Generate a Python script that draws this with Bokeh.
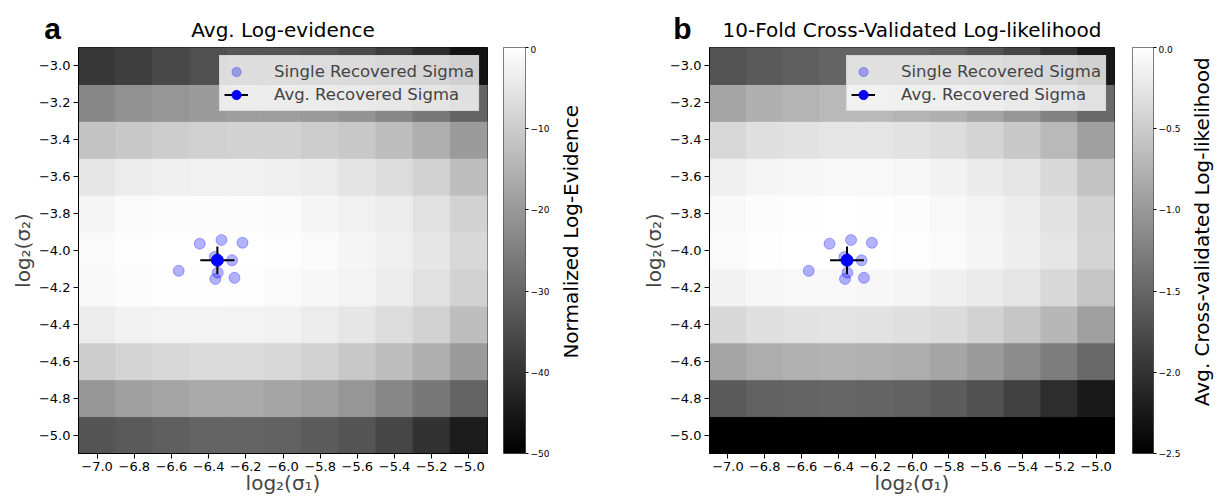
import numpy as np
from bokeh.plotting import figure
from bokeh.models import (ColumnDataSource, LinearColorMapper, FixedTicker, CustomJSTickFormatter,
                          Legend, LegendItem, Range1d)
from bokeh.layouts import row, column
from bokeh.palettes import gray
from bokeh.transform import linear_cmap
from bokeh.core.properties import value
from bokeh.embed import file_html
from bokeh.resources import INLINE

# ---------------- data ----------------
sigma1_centers = [-7.0, -6.8, -6.6, -6.4, -6.2, -6.0, -5.8, -5.6, -5.4, -5.2, -5.0]
sigma2_centers = [-5.0, -4.8, -4.6, -4.4, -4.2, -4.0, -3.8, -3.6, -3.4, -3.2, -3.0]

# rows ordered bottom (log2 sigma2 = -5.0) to top (-3.0)
log_evidence = [
    [-33.3, -32.4, -31.4, -30.4, -30.4, -30.8, -32.0, -33.3, -36.3, -40.2, -44.5],
    [-20.6, -18.6, -17.6, -16.7, -16.7, -17.6, -18.6, -20.6, -23.5, -26.5, -30.4],
    [-9.8, -8.4, -7.8, -7.3, -7.3, -7.8, -8.8, -10.8, -12.7, -15.7, -19.6],
    [-3.9, -2.9, -2.5, -2.4, -2.5, -2.9, -3.9, -4.9, -6.9, -8.8, -12.7],
    [-1.4, -0.6, -0.2, -0.2, -0.4, -1.0, -1.6, -2.5, -3.9, -5.9, -8.8],
    [-1.0, -0.4, 0.0, 0.0, 0.0, -0.4, -1.0, -2.0, -3.3, -4.9, -7.8],
    [-2.0, -1.0, -0.6, -0.6, -0.6, -1.0, -2.0, -2.9, -3.9, -5.9, -8.8],
    [-4.9, -3.9, -3.3, -2.9, -2.9, -3.3, -3.9, -5.3, -6.9, -8.8, -12.7],
    [-11.8, -10.8, -9.8, -9.2, -8.8, -8.8, -9.8, -10.8, -12.7, -15.7, -19.6],
    [-23.5, -21.6, -20.6, -19.6, -19.0, -19.0, -19.6, -21.0, -23.5, -26.5, -30.4],
    [-39.2, -37.8, -35.9, -34.3, -33.3, -33.3, -33.9, -35.3, -37.8, -41.2, -46.1],
]

cv_loglik = [
    [-3.4, -3.3, -3.2, -3.2, -3.2, -3.2, -3.3, -3.4, -3.6, -3.9, -4.2],
    [-1.62, -1.54, -1.52, -1.50, -1.52, -1.54, -1.60, -1.70, -1.86, -2.06, -2.25],
    [-0.88, -0.81, -0.77, -0.75, -0.77, -0.81, -0.88, -0.98, -1.13, -1.27, -1.47],
    [-0.39, -0.32, -0.29, -0.28, -0.29, -0.32, -0.36, -0.44, -0.56, -0.71, -0.93],
    [-0.13, -0.09, -0.07, -0.07, -0.08, -0.10, -0.15, -0.20, -0.26, -0.39, -0.56],
    [-0.05, -0.02, 0.0, 0.0, 0.0, -0.02, -0.05, -0.10, -0.17, -0.26, -0.42],
    [-0.07, -0.03, -0.01, 0.0, -0.01, -0.03, -0.07, -0.12, -0.19, -0.29, -0.44],
    [-0.15, -0.10, -0.08, -0.07, -0.07, -0.09, -0.13, -0.20, -0.26, -0.39, -0.59],
    [-0.39, -0.32, -0.29, -0.26, -0.26, -0.29, -0.34, -0.42, -0.54, -0.69, -0.93],
    [-0.88, -0.78, -0.74, -0.69, -0.69, -0.74, -0.78, -0.88, -1.03, -1.23, -1.47],
    [-1.67, -1.62, -1.57, -1.52, -1.52, -1.52, -1.57, -1.67, -1.81, -2.01, -2.25],
]

single_sigma1 = [-6.448, -6.331, -6.218, -6.367, -6.274, -6.561, -6.351, -6.364, -6.261]
single_sigma2 = [-3.963, -3.943, -3.958, -4.035, -4.053, -4.110, -4.120, -4.154, -4.148]
avg_sigma1 = -6.353
avg_sigma2 = -4.053
err_sigma1 = 0.092
err_sigma2 = 0.075

x_ticks = [-7.0, -6.8, -6.6, -6.4, -6.2, -6.0, -5.8, -5.6, -5.4, -5.2, -5.0]
y_ticks = [-5.0, -4.8, -4.6, -4.4, -4.2, -4.0, -3.8, -3.6, -3.4, -3.2, -3.0]
cb_ticks_a = [-50, -40, -30, -20, -10, 0]
cb_ticks_b = [-2.5, -2.0, -1.5, -1.0, -0.5, 0.0]

panel_letters = ["a", "b"]
panel_titles = ["Avg. Log-evidence", "10-Fold Cross-Validated Log-likelihood"]
colorbar_labels = ["Normalized Log-Evidence", "Avg. Cross-validated Log-likelihood"]
legend_labels = ["Single Recovered Sigma", "Avg. Recovered Sigma"]

FONT = "DejaVu Sans"
PALETTE = gray(256)

# ---------------- layout constants (pixels) ----------------
HEADER_H = 45
ROW_H = 455


def fmt(decimals):
    return CustomJSTickFormatter(code="return tick.toFixed(%d).replace('-', '\\u2212');" % decimals)


def base_fig(**kw):
    return figure(output_backend="svg", toolbar_location=None, title_location=None, **kw)


def heat_panel(values, low, high, width, mbl, mbr, mbt, mbb):
    p = base_fig(width=width, height=ROW_H, x_range=Range1d(-7.1, -4.9), y_range=Range1d(-5.1, -2.9),
                 min_border_left=mbl, min_border_right=mbr, min_border_top=mbt, min_border_bottom=mbb)
    xs, ys, vs = [], [], []
    for j, yc in enumerate(sigma2_centers):
        for i, xc in enumerate(sigma1_centers):
            xs.append(xc)
            ys.append(yc)
            vs.append(values[j][i])
    src = ColumnDataSource(dict(x=xs, y=ys, v=vs))
    cmap = linear_cmap("v", PALETTE, low, high, low_color="#000000", high_color="#ffffff")
    p.rect(x="x", y="y", width=0.2, height=0.2, source=src, fill_color=cmap, line_color=cmap, line_width=1)

    r_single = p.scatter(single_sigma1, single_sigma2, size=11, color="blue", alpha=0.3)
    seg = ColumnDataSource(dict(
        x0=[avg_sigma1 - err_sigma1, avg_sigma1],
        y0=[avg_sigma2, avg_sigma2 - err_sigma2],
        x1=[avg_sigma1 + err_sigma1, avg_sigma1],
        y1=[avg_sigma2, avg_sigma2 + err_sigma2]))
    r_err = p.segment(x0="x0", y0="y0", x1="x1", y1="y1", source=seg, line_color="black", line_width=2)
    r_avg = p.scatter([avg_sigma1], [avg_sigma2], size=12, color="blue")

    legend = Legend(items=[LegendItem(label=legend_labels[0], renderers=[r_single]),
                           LegendItem(label=legend_labels[1], renderers=[r_err, r_avg])],
                    location="top_right", label_text_font=FONT, label_text_font_size="16.5px",
                    glyph_width=24, glyph_height=23, padding=4, spacing=0, label_standoff=26,
                    margin=8, background_fill_color="white", background_fill_alpha=0.8,
                    border_line_color="#cccccc", label_height=23)
    p.add_layout(legend)

    p.grid.visible = False
    p.outline_line_color = "black"
    p.outline_line_width = 1
    for ax in (p.xaxis[0], p.yaxis[0]):
        ax.major_label_text_font = FONT
        ax.major_label_text_font_size = "13px"
        ax.major_label_text_color = "black"
        ax.major_tick_out = 5
        ax.major_tick_in = 0
        ax.minor_tick_line_color = None
        ax.major_label_standoff = 3
        ax.axis_label_text_font = FONT
        ax.axis_label_text_font_size = "20px"
        ax.axis_label_text_font_style = "normal"
        ax.axis_line_color = "black"
        ax.formatter = fmt(1)
    p.xaxis.ticker = FixedTicker(ticks=x_ticks)
    p.yaxis.ticker = FixedTicker(ticks=y_ticks)
    p.xaxis.axis_label = "log\u2082(\u03c3\u2081)"
    p.yaxis.axis_label = "log\u2082(\u03c3\u2082)"
    p.xaxis.axis_label_standoff = -3
    p.yaxis.axis_label_standoff = 1
    return p


def colorbar_panel(low, high, ticks, decimals, width, mbl, mbr, mbt, mbb):
    p = base_fig(width=width, height=ROW_H, x_range=Range1d(0, 1), y_range=Range1d(low, high),
                 x_axis_location=None, y_axis_location="right",
                 min_border_left=mbl, min_border_right=mbr, min_border_top=mbt, min_border_bottom=mbb)
    mapper = LinearColorMapper(palette=PALETTE, low=low, high=high)
    grad = np.linspace(low, high, 256).reshape(-1, 1)
    p.image(image=[grad], x=0, y=low, dw=1, dh=high - low, color_mapper=mapper)
    p.grid.visible = False
    p.outline_line_color = "#555555"
    ax = p.yaxis[0]
    ax.ticker = FixedTicker(ticks=ticks)
    ax.formatter = fmt(decimals)
    ax.major_label_text_font = FONT
    ax.major_label_text_font_size = "9px"
    ax.major_label_text_color = "black"
    ax.major_tick_out = 3
    ax.major_tick_in = 0
    ax.minor_tick_line_color = None
    ax.major_label_standoff = 2
    ax.axis_line_color = None
    return p


def label_strip(text, x0, width, center_y):
    # a narrow text-only figure whose ranges are page pixels
    p = base_fig(width=width, height=ROW_H, x_range=Range1d(x0, x0 + width),
                 y_range=Range1d(HEADER_H + ROW_H, HEADER_H),
                 x_axis_location=None, y_axis_location=None,
                 min_border_left=0, min_border_right=0, min_border_top=0, min_border_bottom=0)
    p.grid.visible = False
    p.outline_line_color = None
    p.text(x=[x0 + width / 2], y=[center_y], text=[text], angle=np.pi / 2,
           text_font=value(FONT), text_font_size="20px", text_align="center",
           text_baseline="middle", text_color="black")
    return p


# geometry
A_X0, A_ML, A_FW, A_MR, A_MT, A_FH = 0, 78, 409, 8, 1, 408
CA_ML, CA_FW, CA_MR, CA_MT, CA_FH = 8, 22, 27, 0, 413
LA_W = 36
B_ML, B_FW, B_MR, B_MT, B_FH = 121, 405, 10, 2, 406
CB_ML, CB_FW, CB_MR = 8, 21, 30
LB_W = 36

a_w = A_ML + A_FW + A_MR
ca_w = CA_ML + CA_FW + CA_MR
b_w = B_ML + B_FW + B_MR
cb_w = CB_ML + CB_FW + CB_MR

ca_x0 = A_X0 + a_w
la_x0 = ca_x0 + ca_w
b_x0 = la_x0 + LA_W
cb_x0 = b_x0 + b_w
lb_x0 = cb_x0 + cb_w
total_w = lb_x0 + LB_W

pa = heat_panel(log_evidence, -50, 0, a_w, A_ML, A_MR, A_MT, ROW_H - A_MT - A_FH)
ca = colorbar_panel(-50, 0, cb_ticks_a, 0, ca_w, CA_ML, CA_MR, CA_MT, ROW_H - CA_MT - CA_FH)
cbar_center_y = HEADER_H + CA_MT + CA_FH / 2
la = label_strip(colorbar_labels[0], la_x0, LA_W, cbar_center_y)
pb = heat_panel(cv_loglik, -2.5, 0, b_w, B_ML, B_MR, B_MT, ROW_H - B_MT - B_FH)
cb = colorbar_panel(-2.5, 0, cb_ticks_b, 1, cb_w, CB_ML, CB_MR, CA_MT, ROW_H - CA_MT - CA_FH)
lb = label_strip(colorbar_labels[1], lb_x0, LB_W, cbar_center_y)

# header with panel letters and titles (ranges are page pixels, y downward)
header = base_fig(width=total_w, height=HEADER_H, x_range=Range1d(0, total_w), y_range=Range1d(HEADER_H, 0),
                  x_axis_location=None, y_axis_location=None,
                  min_border_left=0, min_border_right=0, min_border_top=0, min_border_bottom=0)
header.grid.visible = False
header.outline_line_color = None
a_frame_left = A_X0 + A_ML
b_frame_left = b_x0 + B_ML
header.text(x=[a_frame_left - 26, b_frame_left - 27], y=[27.5, 27.5], text=panel_letters,
            text_font=value("Liberation Sans"), text_font_style="bold", text_font_size="30px",
            text_align="center", text_baseline="middle", text_color="black")
header.text(x=[a_frame_left + A_FW / 2, b_frame_left + B_FW / 2], y=[29, 29], text=panel_titles,
            text_font=value(FONT), text_font_size="20px",
            text_align="center", text_baseline="middle", text_color="black")

layout = column(header, row(pa, ca, la, pb, cb, lb, spacing=0), spacing=0)
open("out.html", "w").write(file_html(layout, INLINE))
